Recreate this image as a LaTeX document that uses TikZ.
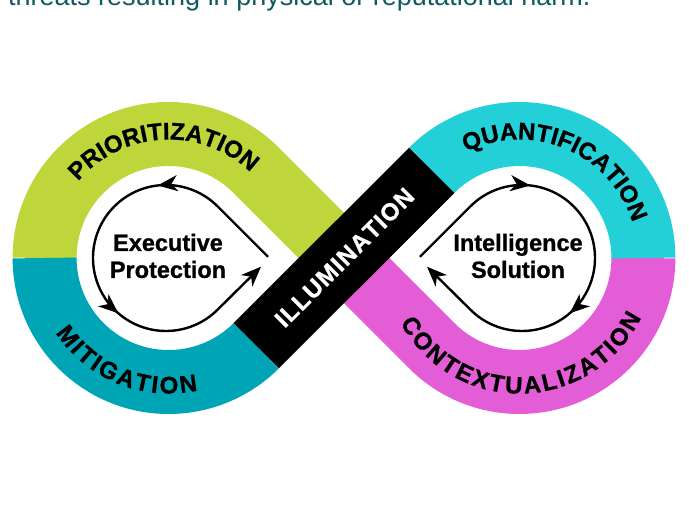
\documentclass[tikz,border=0pt]{standalone}
\usepackage{fontspec}
\setmainfont{Liberation Sans}
\newfontfamily\heavyfont{Liberation Sans}[BoldFeatures={FakeBold=1}]
\usepackage{xcolor}
\usetikzlibrary{arrows.meta,calc,decorations.text,decorations.markings}

\definecolor{limeband}{RGB}{190,214,58}
\definecolor{tealband}{RGB}{0,165,181}
\definecolor{cyanband}{RGB}{35,208,216}
\definecolor{pinkband}{RGB}{227,93,214}
\definecolor{headteal}{RGB}{14,90,99}

\newcommand{\bandfont}{\heavyfont\bfseries\fontsize{24}{24}\selectfont}

\begin{document}
\begin{tikzpicture}[x=1pt,y=1pt,
  >={Stealth[length=20pt,width=16pt,inset=6pt]},
  band/.style={line width=\W pt},
  band label/.style 2 args={decoration={text along path, text align=center,
      text={|\bandfont\kern#2|#1}}, decorate},
  loop arrow/.style={line width=2.4pt, ->, postaction={decorate},
      decoration={markings,
        mark=at position 137pt with {\arrow{>}},
        mark=at position 306pt with {\arrow{>}}}},
  core text/.style={align=center, inner sep=0pt,
      font=\heavyfont\bfseries\fontsize{23.5}{27}\selectfont}]

% ============================================================
% 参数区
% ============================================================

\def\R{124}      % 带子中线半径
\def\W{64}       % 带子宽度
\def\Ra{73}      % 内圈箭头半径
\def\Tin{118.5}  % 上半圈文字基线
\def\Tout{135.5} % 下半圈文字基线

\useasboundingbox (0,0) rectangle (689,517);
\clip (0,0) rectangle (689,517);

\coordinate (cL) at (168.6,259);
\coordinate (cR) at (519.4,259);
\coordinate (X) at (344,259);
\coordinate (aL) at (166,259);
\coordinate (aR) at (522,259);
\coordinate (BL) at ($(cL)+(-45:\R)$);
\coordinate (TR) at ($(cR)+(135:\R)$);

% ============================================================
% 顶部文字（被裁掉一半）
% ============================================================

\node[anchor=base west, inner sep=0pt, text=headteal,
  font=\fontsize{27}{27}\selectfont] (hdr) at (8,511.5)
  {threats resulting in physical or reputational harm.};

% ============================================================
% 无穷带
% ============================================================

\draw[band, limeband] ($(cL)+(180:\R)$) arc[start angle=180, end angle=45, radius=\R] -- (X);
\draw[band, pinkband] (X) -- ($(cR)+(225:\R)$) arc[start angle=225, end angle=360, radius=\R];
\draw[band, tealband] ($(cL)+(180:\R)$) arc[start angle=180, end angle=315, radius=\R];
\draw[band, cyanband] (TR) arc[start angle=135, end angle=0, radius=\R];
\draw[band, black] (BL) -- (TR);

% 带上的文字
\path[band label={PRIORITIZATION}{0pt}]
  ($(cL)+(153:\Tin)$) arc[start angle=153, end angle=33, radius=\Tin];
\path[band label={MITIGATION}{2.4pt}]
  ($(cL)+(200:\Tout)$) arc[start angle=200, end angle=295, radius=\Tout];
\path[band label={QUANTIFICATION}{0pt}]
  ($(cR)+(127:\Tin)$) arc[start angle=127, end angle=7, radius=\Tin];
\path[band label={CONTEXTUALIZATION}{2.3pt}]
  ($(cR)+(200:\Tout)$) arc[start angle=200, end angle=341.5, radius=\Tout];
\path[band label={ILLUMINATION}{1.2pt}, decoration={text color=white}]
  ($(BL)+(5.8,-5.8)$) -- ($(TR)+(5.8,-5.8)$);

% ============================================================
% 内圈箭头
% ============================================================

\draw[loop arrow] (268,260.2) -- ($(aL)+(45:\Ra)$)
  arc[start angle=45, end angle=315, radius=\Ra] -- (261,250.3);
\draw[loop arrow] (420,260.2) -- ($(aR)+(135:\Ra)$)
  arc[start angle=135, end angle=-135, radius=\Ra] -- (427,250.3);

\node[core text] (ep) at (168,261) {Executive\\Protection};
\node[core text] (is) at (518,261) {Intelligence\\Solution};

\end{tikzpicture}
\end{document}
